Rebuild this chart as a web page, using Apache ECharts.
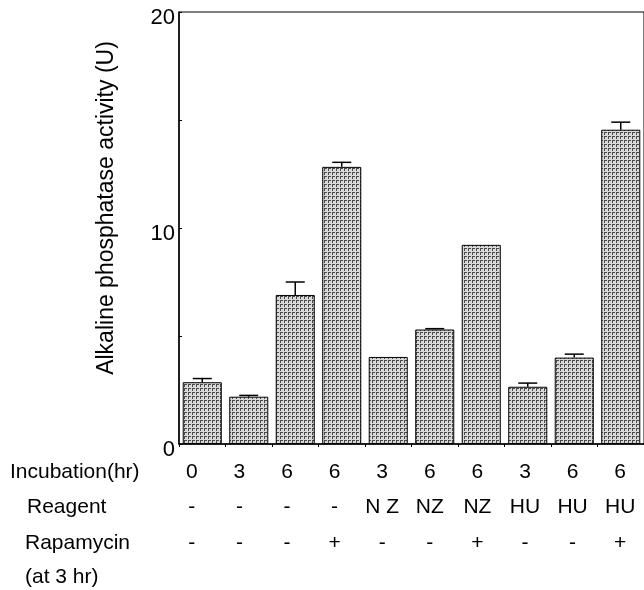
<!DOCTYPE html>
<html>
<head>
<meta charset="utf-8">
<script src="https://cdn.jsdelivr.net/npm/echarts@6/dist/echarts.min.js"></script>
<style>
  html, body { margin: 0; padding: 0; background: #fff; }
  #chart { width: 644px; height: 590px; }
</style>
</head>
<body>
<div id="chart"></div>
<script>
  // 表の行 (各棒の条件)
  var incubation = ['0', '3', '6', '6', '3', '6', '6', '3', '6', '6'];
  var reagent = ['-', '-', '-', '-', 'N Z', 'NZ', 'NZ', 'HU', 'HU', 'HU'];
  var rapamycin = ['-', '-', '-', '+', '-', '-', '+', '-', '-', '+'];
  var rowNames = ['Incubation(hr)', 'Reagent', 'Rapamycin', '(at 3 hr)'];
  var yName = 'Alkaline phosphatase activity (U)';
  // 活性値と誤差 (上側のみ)
  var activity = [2.86, 2.19, 6.90, 12.83, 4.03, 5.30, 9.22, 2.65, 4.00, 14.55];
  var errorUp = [0.17, 0.06, 0.60, 0.21, 0, 0.04, 0, 0.17, 0.16, 0.35];
  var yTicks = [0, 10, 20];

  var chart = echarts.init(document.getElementById('chart'));

  // 網点っぽい塗り
  function makePattern() {
    var c = document.createElement('canvas');
    c.width = 4; c.height = 4;
    var ctx = c.getContext('2d');
    ctx.fillStyle = '#d8d8d8';
    ctx.fillRect(0, 0, 4, 4);
    ctx.fillStyle = '#4a4a4a';
    ctx.fillRect(0, 0, 1, 3);
    ctx.fillRect(1, 0, 2, 1);
    return c;
  }

  var idx = activity.map(function (v, i) { return i; });
  var errData = activity.map(function (v, i) {
    return [i, v, v + errorUp[i]];
  }).filter(function (d, i) { return errorUp[i] > 0; });

  var font = 'Liberation Sans, Arial, sans-serif';

  function tableAxis(data, offset) {
    return {
      type: 'category',
      gridIndex: 1,
      position: 'bottom',
      offset: offset,
      data: data,
      axisLine: { show: false },
      axisTick: { show: false },
      axisLabel: { margin: 0, interval: 0, fontSize: 21, fontFamily: font, color: '#000' }
    };
  }

  var option = {
    backgroundColor: '#fff',
    animation: false,
    grid: [
      { left: 179, top: 12, width: 466, height: 432, show: true, borderColor: '#000', borderWidth: 1 },
      { left: 168, top: 12, width: 478, height: 432 }
    ],
    xAxis: [
      {
        type: 'category',
        gridIndex: 0,
        data: idx,
        axisLine: { lineStyle: { color: '#000', width: 1.5 } },
        axisTick: { show: true, length: 3, lineStyle: { color: '#000' } },
        axisLabel: { show: false }
      },
      tableAxis(incubation, 18),
      tableAxis(reagent, 53),
      tableAxis(rapamycin, 89)
    ],
    yAxis: [
      {
        type: 'value',
        gridIndex: 0,
        min: 0,
        max: 20,
        interval: 5,
        axisLine: { show: true, lineStyle: { color: '#000', width: 1.5 } },
        axisTick: { show: true, inside: true, length: 3, lineStyle: { color: '#000' } },
        splitLine: { show: false },
        axisLabel: {
          margin: 4,
          color: '#000',
          formatter: function (v) { return yTicks.indexOf(v) >= 0 ? '{n|' + v + '}' : ''; },
          rich: {
            n: { fontSize: 22, fontFamily: font, color: '#000', padding: [12, 0, 0, 0] }
          }
        }
      },
      { type: 'value', gridIndex: 1, show: false }
    ],
    graphic: [
      {
        type: 'text', x: 107, y: 208, rotation: Math.PI / 2,
        style: { text: yName, font: '23px ' + font, fill: '#000', align: 'center', verticalAlign: 'middle' }
      },
      { type: 'text', left: 10, top: 462, style: { text: rowNames[0], font: '21px ' + font, fill: '#000' } },
      { type: 'text', left: 27, top: 497, style: { text: rowNames[1], font: '21px ' + font, fill: '#000' } },
      { type: 'text', left: 25, top: 533, style: { text: rowNames[2], font: '21px ' + font, fill: '#000' } },
      { type: 'text', left: 25, top: 567, style: { text: rowNames[3], font: '21px ' + font, fill: '#000' } }
    ],
    series: [
      {
        type: 'bar',
        xAxisIndex: 0,
        yAxisIndex: 0,
        data: activity,
        barCategoryGap: '16%',
        itemStyle: {
          color: { image: makePattern(), repeat: 'repeat' },
          borderColor: '#000',
          borderWidth: 1
        }
      },
      {
        type: 'custom',
        xAxisIndex: 0,
        yAxisIndex: 0,
        data: errData,
        encode: { x: 0, y: [1, 2] },
        z: 3,
        renderItem: function (params, api) {
          var base = api.coord([api.value(0), api.value(1)]);
          var top = api.coord([api.value(0), api.value(2)]);
          var st = { stroke: '#000', lineWidth: 1.5 };
          return {
            type: 'group',
            children: [
              { type: 'line', shape: { x1: base[0], y1: base[1], x2: base[0], y2: top[1] }, style: st },
              { type: 'line', shape: { x1: base[0] - 9.5, y1: top[1], x2: base[0] + 9.5, y2: top[1] }, style: st }
            ]
          };
        }
      }
    ]
  };

  chart.setOption(option);
</script>
</body>
</html>
